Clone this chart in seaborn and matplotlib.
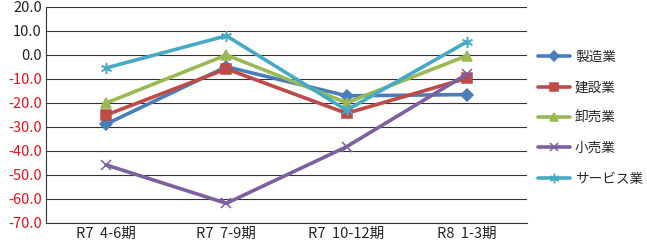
import pandas as pd
import seaborn as sns
import matplotlib.pyplot as plt

# --- data ---
periods = ['R7  4-6期', 'R7  7-9期', 'R7  10-12期', 'R8  1-3期']
seizo = [-28.8, -4.9, -17.0, -16.5]
kensetsu = [-25.0, -5.8, -24.3, -9.7]
oroshi = [-20.0, 0.0, -19.9, -0.3]
kouri = [-45.8, -61.8, -38.2, -8.0]
service = [-5.4, 8.0, -23.0, 5.5]

industries = ['製造業', '建設業', '卸売業', '小売業', 'サービス業']
colors = ['#4a7ebb', '#be4b48', '#98b954', '#7d60a0', '#46aac5']
markers = ['D', 's', '^', 'x', (6, 2, 0)]
sizes = [6, 7, 7, 7, 8]

df = pd.DataFrame({'period': periods * 5,
                   'industry': sum([[n] * 4 for n in industries], []),
                   'value': seizo + kensetsu + oroshi + kouri + service})

sns.set_style('white')
plt.rcParams['font.family'] = ['Noto Sans CJK JP', 'DejaVu Sans']

fig = plt.figure(figsize=(6.47, 2.48), dpi=100)
ax = fig.add_axes([46 / 647, 1 - 223 / 248, (527 - 46) / 647, (223 - 7) / 248])

for name, c, m, s in zip(industries, colors, markers, sizes):
    sub = df[df['industry'] == name]
    sns.lineplot(data=sub, x='period', y='value', color=c, marker=m,
                 markersize=s, linewidth=2.6, markeredgecolor=c,
                 markeredgewidth=1.1, label=name, ax=ax, sort=False)

ax.set_ylim(-70, 20)
ax.set_xlim(-0.5, 3.5)
ax.set_yticks(range(-70, 21, 10))
ax.set_yticklabels([f'{v:.1f}' for v in range(-70, 21, 10)])
for lab, v in zip(ax.get_yticklabels(), range(-70, 21, 10)):
    lab.set_color('#e8101e' if v < 0 else '#222222')
ax.tick_params(axis='both', labelsize=10.5, length=0, pad=3)
ax.grid(axis='y', color='#333333', linewidth=0.8)
ax.set_axisbelow(True)
ax.set_xlabel('')
ax.set_ylabel('')
for sp in ['top', 'right']:
    ax.spines[sp].set_visible(False)
for sp in ['left', 'bottom']:
    ax.spines[sp].set_color('#333333')
    ax.spines[sp].set_linewidth(0.8)

ax.legend(loc='upper left', bbox_to_anchor=(1.022, 0.80), frameon=False,
          fontsize=9.8, handlelength=2.4, labelspacing=1.2, handletextpad=0.35,
          borderaxespad=0, borderpad=0, markerscale=0.85)

plt.savefig('out.png', dpi=100)
